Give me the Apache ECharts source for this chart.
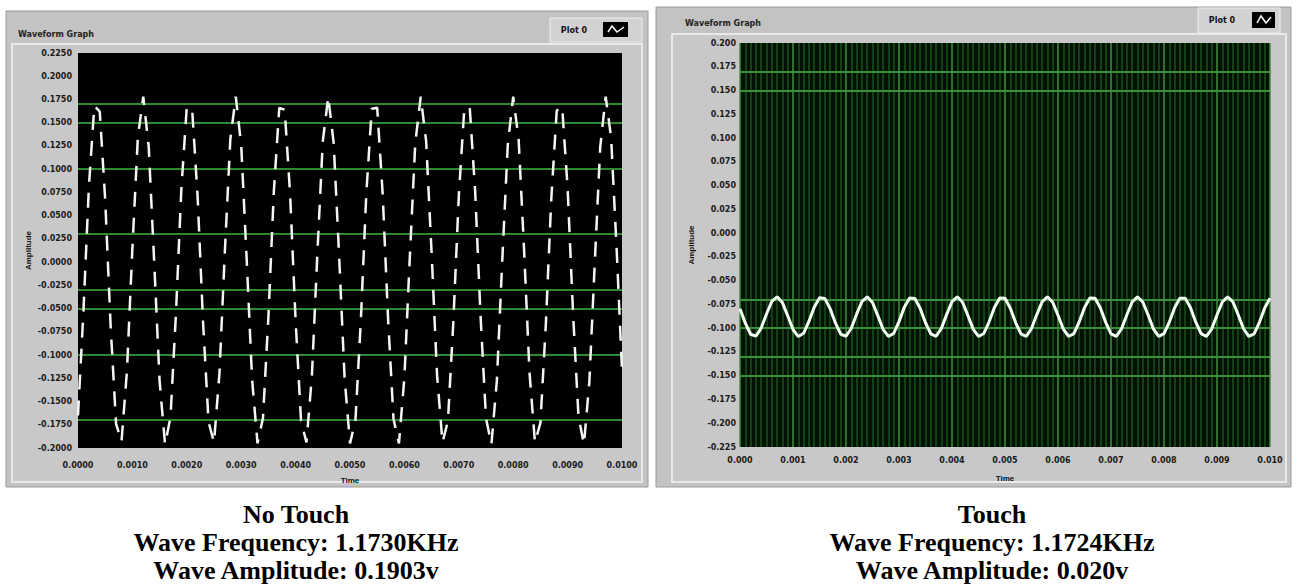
<!DOCTYPE html>
<html>
<head>
<meta charset="utf-8">
<script src="https://cdn.jsdelivr.net/npm/echarts@6/dist/echarts.min.js"></script>
<style>
html,body{margin:0;padding:0;background:#ffffff;}
#c{width:1307px;height:587px;}
</style>
</head>
<body>
<div id="c"></div>
<script>
// ---------- data ----------
const panelTitles = ['Waveform Graph', 'Waveform Graph'];
const legendNames = ['Plot 0', 'Plot 0'];
const axisNamesX = ['Time', 'Time'];
const axisNamesY = ['Amplitude', 'Amplitude'];

// time axis (seconds)
const timeMin = 0, timeMax = 0.01, timeStep = 0.001;
const sampleDt = 0.0001;

// left graph (No Touch) y axis
const leftYMin = -0.2, leftYMax = 0.225, leftYStep = 0.025;
// values of the visible horizontal grid lines
const leftGridValues = [0.175, 0.15, 0.1, 0.025, -0.025, -0.05, -0.1, -0.175];
// samples of the No Touch wave (V), one every sampleDt
const leftWave = [
-0.165,-0.053,0.081,0.168,0.162,0.067,-0.069,-0.174,-0.193,-0.117,
0.015,0.134,0.178,0.124,0.001,-0.128,-0.196,-0.167,-0.056,0.079,
0.167,0.163,0.069,-0.066,-0.172,-0.194,-0.120,0.012,0.132,0.178,
0.126,0.004,-0.126,-0.195,-0.168,-0.059,0.076,0.166,0.164,0.072,
-0.063,-0.171,-0.194,-0.122,0.009,0.130,0.178,0.128,0.007,-0.124,
-0.195,-0.170,-0.062,0.074,0.165,0.166,0.074,-0.061,-0.169,-0.195,
-0.124,0.006,0.128,0.178,0.130,0.010,-0.121,-0.194,-0.171,-0.064,
0.071,0.164,0.167,0.077,-0.058,-0.168,-0.196,-0.127,0.003,0.126,
0.178,0.132,0.013,-0.119,-0.194,-0.173,-0.067,0.068,0.163,0.167,
0.080,-0.055,-0.166,-0.196,-0.129,0.000,0.124,0.178,0.134,0.016,
-0.116
];

// right graph (Touch) y axis
const rightYMin = -0.225, rightYMax = 0.2, rightYStep = 0.025;
const rightGridValues = [0.175, 0.15, -0.075, -0.1, -0.125, -0.15];
// samples of the Touch wave (V), one every sampleDt
const rightWave = [
-0.0796,-0.0947,-0.1064,-0.1084,-0.0999,-0.0851,-0.0719,-0.0670,-0.0731,-0.0870,
-0.1014,-0.1088,-0.1054,-0.0929,-0.0779,-0.0681,-0.0687,-0.0794,-0.0945,-0.1063,
-0.1085,-0.1001,-0.0853,-0.0720,-0.0670,-0.0730,-0.0868,-0.1012,-0.1087,-0.1055,
-0.0931,-0.0781,-0.0682,-0.0687,-0.0792,-0.0943,-0.1061,-0.1085,-0.1002,-0.0855,
-0.0721,-0.0670,-0.0728,-0.0866,-0.1010,-0.1087,-0.1056,-0.0933,-0.0782,-0.0683,
-0.0686,-0.0790,-0.0941,-0.1061,-0.1086,-0.1004,-0.0857,-0.0723,-0.0670,-0.0727,
-0.0864,-0.1009,-0.1087,-0.1057,-0.0935,-0.0784,-0.0683,-0.0685,-0.0788,-0.0939,
-0.1059,-0.1086,-0.1005,-0.0859,-0.0724,-0.0670,-0.0725,-0.0861,-0.1007,-0.1087,
-0.1058,-0.0937,-0.0786,-0.0684,-0.0684,-0.0786,-0.0937,-0.1058,-0.1086,-0.1007,
-0.0861,-0.0725,-0.0670,-0.0724,-0.0859,-0.1006,-0.1086,-0.1059,-0.0939,-0.0788,
-0.0685
];

const captionsLeft = ['No Touch', 'Wave Frequency: 1.1730KHz', 'Wave Amplitude: 0.1903v'];
const captionsRight = ['Touch', 'Wave Frequency: 1.1724KHz', 'Wave Amplitude: 0.020v'];

// ---------- build ----------
const toPairs = arr => arr.map((v, i) => [i * sampleDt, v]);
const labelFont = {fontSize: 8, fontWeight: 'bold', color: '#1a1a1a', fontFamily: 'DejaVu Sans'};

function panel(x, y, w, h, inner) {
  return [
    {type: 'rect', z: -10, shape: {x: x, y: y, width: w, height: h},
     style: {fill: '#c3c3c3', stroke: '#9a9a9a', lineWidth: 1}},
    {type: 'rect', z: -9, shape: inner,
     style: {fill: '#c8c8c8', stroke: '#e9e9e9', lineWidth: 2}},
  ];
}
function legendBox(x, y, w, h, textX, boxX, boxY, boxW, boxH, name) {
  return [
    {type: 'rect', z: -8, shape: {x: x, y: y, width: w, height: h},
     style: {fill: '#d2d2d2', stroke: '#ededed', lineWidth: 1}},
    {type: 'text', z: 5, style: {x: textX, y: y + h / 2, text: name, fill: '#111',
      font: 'bold 8px "DejaVu Sans"', textAlign: 'center', textVerticalAlign: 'middle'}},
    {type: 'rect', z: 5, shape: {x: boxX, y: boxY, width: boxW, height: boxH}, style: {fill: '#000'}},
    {type: 'polyline', z: 6, shape: {points: [[boxX + 5, boxY + boxH - 5], [boxX + 9, boxY + 4], [boxX + 14, boxY + boxH - 5], [boxX + boxW - 4, boxY + 5]]},
     style: {stroke: '#fff', lineWidth: 1.5, fill: null}},
  ];
}
function captionBlock(lines, cx, cy) {
  return {
    type: 'text', z: 10,
    style: {x: cx, y: cy, text: lines.join('\n'), fill: '#000',
      fontSize: 26, fontWeight: 'bold', fontFamily: '"Liberation Serif"', lineHeight: 28,
      textAlign: 'center', textVerticalAlign: 'middle'}
  };
}

const graphics = [].concat(
  panel(6, 11, 642, 476, {x: 12, y: 44, width: 630, height: 438}),
  panel(656, 7, 635, 480, {x: 672, y: 34, width: 614, height: 448}),
  legendBox(550, 18, 92, 24, 574, 603, 22, 25, 15, legendNames[0]),
  legendBox(1198, 8, 82, 25, 1222, 1252, 12, 23, 16, legendNames[1]),
  [
    {type: 'text', z: 5, style: {x: 18, y: 34, text: panelTitles[0], fill: '#222',
      font: 'bold 8px "DejaVu Sans"', textVerticalAlign: 'middle'}},
    {type: 'text', z: 5, style: {x: 685, y: 23, text: panelTitles[1], fill: '#222',
      font: 'bold 8px "DejaVu Sans"', textVerticalAlign: 'middle'}},
    captionBlock(captionsLeft, 296, 542),
    captionBlock(captionsRight, 992, 542)
  ]
);

const chart = echarts.init(document.getElementById('c'), null, {renderer: 'svg'});
chart.setOption({
  animation: false,
  backgroundColor: '#ffffff',
  graphic: {elements: graphics},
  grid: [
    {left: 78, top: 53, width: 544, height: 395, show: true, backgroundColor: '#000000', borderWidth: 0, z: 0},
    {left: 740, top: 43, width: 530, height: 404, show: true, backgroundColor: '#021202', borderWidth: 0, z: 0}
  ],
  xAxis: [
    {type: 'value', gridIndex: 0, min: timeMin, max: timeMax, interval: timeStep, z: 1,
     axisLine: {show: false}, axisTick: {show: false}, splitLine: {show: false},
     axisLabel: Object.assign({margin: 13, formatter: v => v.toFixed(4)}, labelFont),
     name: axisNamesX[0], nameLocation: 'middle', nameGap: 28,
     nameTextStyle: {fontSize: 8, fontWeight: 'bold', color: '#111'}},
    {type: 'value', gridIndex: 1, min: timeMin, max: timeMax, interval: timeStep, z: 1,
     axisLine: {show: false}, axisTick: {show: false},
     splitLine: {show: true, lineStyle: {color: '#3f8f3f', width: 1.5}},
     minorTick: {show: false, splitNumber: 10},
     minorSplitLine: {show: true, lineStyle: {color: '#1c501c', width: 1.5}},
     axisLabel: Object.assign({margin: 9, formatter: v => v.toFixed(3)}, labelFont),
     name: axisNamesX[1], nameLocation: 'middle', nameGap: 27,
     nameTextStyle: {fontSize: 8, fontWeight: 'bold', color: '#111'}}
  ],
  yAxis: [
    {type: 'value', gridIndex: 0, min: leftYMin, max: leftYMax, interval: leftYStep, z: 1,
     axisLine: {show: false}, axisTick: {show: false}, splitLine: {show: false},
     axisLabel: Object.assign({margin: 6, formatter: v => v.toFixed(4)}, labelFont),
     name: axisNamesY[0], nameLocation: 'middle', nameGap: 46, nameRotate: 90,
     nameTextStyle: {fontSize: 8, fontWeight: 'bold', color: '#111'}},
    {type: 'value', gridIndex: 1, min: rightYMin, max: rightYMax, interval: rightYStep, z: 1,
     axisLine: {show: false}, axisTick: {show: false}, splitLine: {show: false},
     axisLabel: Object.assign({margin: 4, formatter: v => v.toFixed(3)}, labelFont),
     name: axisNamesY[1], nameLocation: 'middle', nameGap: 45, nameRotate: 90,
     nameTextStyle: {fontSize: 8, fontWeight: 'bold', color: '#111'}}
  ],
  series: [
    {type: 'line', name: legendNames[0], xAxisIndex: 0, yAxisIndex: 0, z: 4,
     data: toPairs(leftWave), showSymbol: false, symbol: 'none',
     lineStyle: {color: '#f2f7f2', width: 2.5, type: [15, 11]},
     markLine: {silent: true, z: 2, symbol: ['none', 'none'], label: {show: false},
       lineStyle: {color: '#2e8a2e', width: 2, type: 'solid'},
       data: leftGridValues.map(v => ({yAxis: v}))}},
    {type: 'line', name: legendNames[1], xAxisIndex: 1, yAxisIndex: 1, z: 4,
     data: toPairs(rightWave), showSymbol: false, symbol: 'none',
     lineStyle: {color: '#f4fff4', width: 3},
     markLine: {silent: true, z: 2, symbol: ['none', 'none'], label: {show: false},
       lineStyle: {color: '#3a8f3a', width: 2, type: 'solid'},
       data: rightGridValues.map(v => ({yAxis: v}))}}
  ]
});
</script>
</body>
</html>
